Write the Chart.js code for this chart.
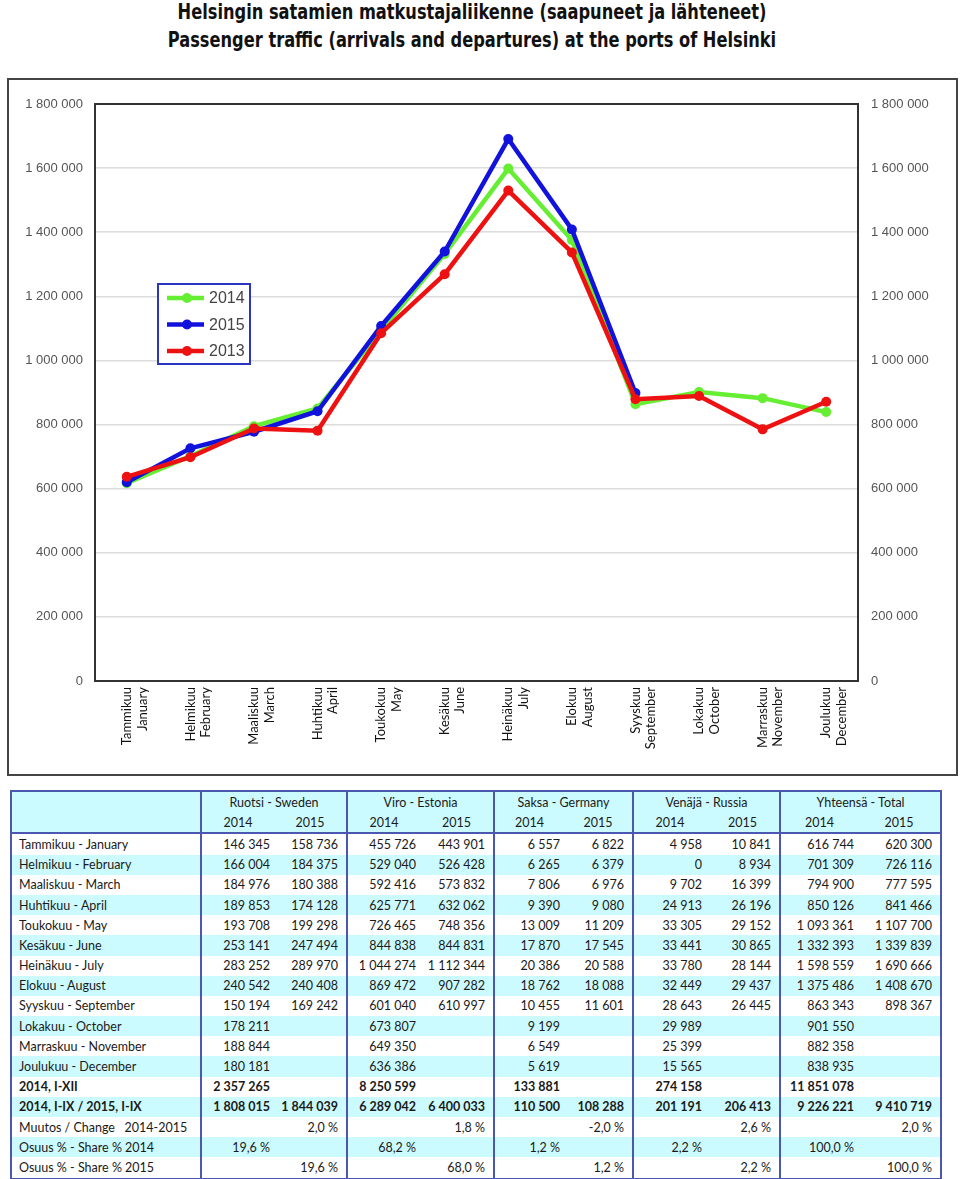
<!DOCTYPE html>
<html lang="fi">
<head>
<meta charset="UTF-8">
<title>Helsingin satamien matkustajaliikenne</title>
<script src="https://cdn.jsdelivr.net/npm/chart.js"></script>
<style>
    body {
        margin: 0;
        padding: 0;
        background: #fff;
        width: 960px;
        height: 1179px;
        position: relative;
        font-family: Lato, "Open Sans", sans-serif;
    }
    .title {
        position: absolute;
        left: 0;
        width: 944px;
        text-align: center;
        font-family: "DejaVu Sans Condensed", "DejaVu Sans", sans-serif;
        font-weight: bold;
        font-size: 22px;
        color: #111;
        line-height: 26px;
        transform: scaleX(0.82);
        transform-origin: 472px 0;
    }
    .chart-box {
        position: absolute;
        left: 7px;
        top: 78px;
        width: 947px;
        height: 694px;
        border: 2px solid #444;
    }
    table {
        position: absolute;
        left: 10px;
        top: 790px;
        width: 930px;
        border-collapse: collapse;
        table-layout: fixed;
        font-size: 12.5px;
        color: #1a1a1a;
        border: 2px solid #4a58b0;
    }
    td {
        height: 20.2px;
        padding: 0;
        white-space: pre;
        overflow: visible;
    }
    td.lab { padding-left: 7px; }
    td.a { text-align: right; padding-right: 4px; }
    td.b { text-align: right; padding-right: 8px; }
    td.g { border-left: 2px solid #4a58b0; }
    tr.hd td { text-align: center; padding: 0; }
    tr.hd2 td { border-bottom: 2px solid #4a58b0; }
    tr.c td { background: #ccfbff; }
    tr.bold td { font-weight: bold; }
</style>
</head>
<body>
<div class="title" style="top:-1px">Helsingin satamien matkustajaliikenne (saapuneet ja lähteneet)</div>
<div class="title" style="top:27px">Passenger traffic (arrivals and departures) at the ports of Helsinki</div>

<div class="chart-box">
    <canvas id="lineChart" width="947" height="694"></canvas>
</div>

<table id="tbl">
    <colgroup>
        <col style="width:190px">
        <col style="width:73px"><col style="width:73px">
        <col style="width:73px"><col style="width:74px">
        <col style="width:70px"><col style="width:69px">
        <col style="width:73px"><col style="width:74px">
        <col style="width:78px"><col style="width:83px">
    </colgroup>
    <tbody></tbody>
</table>

<script>
// kuukaudet / months (x axis)
const monthsFi = ['Tammikuu', 'Helmikuu', 'Maaliskuu', 'Huhtikuu', 'Toukokuu', 'Kesäkuu',
                  'Heinäkuu', 'Elokuu', 'Syyskuu', 'Lokakuu', 'Marraskuu', 'Joulukuu'];
const monthsEn = ['January', 'February', 'March', 'April', 'May', 'June',
                  'July', 'August', 'September', 'October', 'November', 'December'];

// totals per month
const total2014 = [616744, 701309, 794900, 850126, 1093361, 1332393, 1598559, 1375486, 863343, 901550, 882358, 838935];
const total2015 = [620300, 726116, 777595, 841466, 1107700, 1339839, 1690666, 1408670, 898367, null, null, null];
const total2013 = [637000, 698000, 788000, 781000, 1085000, 1269000, 1530000, 1337000, 879000, 889000, 785000, 871000];

// y axis
const yMin = 0;
const yMax = 1800000;
const yStep = 200000;

// table: country groups and rows
const groups = ['Ruotsi - Sweden', 'Viro - Estonia', 'Saksa - Germany', 'Venäjä - Russia', 'Yhteensä - Total'];
const years = ['2014', '2015'];
const sweden2014  = ['146 345', '166 004', '184 976', '189 853', '193 708', '253 141', '283 252', '240 542', '150 194', '178 211', '188 844', '180 181'];
const sweden2015  = ['158 736', '184 375', '180 388', '174 128', '199 298', '247 494', '289 970', '240 408', '169 242', '', '', ''];
const estonia2014 = ['455 726', '529 040', '592 416', '625 771', '726 465', '844 838', '1 044 274', '869 472', '601 040', '673 807', '649 350', '636 386'];
const estonia2015 = ['443 901', '526 428', '573 832', '632 062', '748 356', '844 831', '1 112 344', '907 282', '610 997', '', '', ''];
const germany2014 = ['6 557', '6 265', '7 806', '9 390', '13 009', '17 870', '20 386', '18 762', '10 455', '9 199', '6 549', '5 619'];
const germany2015 = ['6 822', '6 379', '6 976', '9 080', '11 209', '17 545', '20 588', '18 088', '11 601', '', '', ''];
const russia2014  = ['4 958', '0', '9 702', '24 913', '33 305', '33 441', '33 780', '32 449', '28 643', '29 989', '25 399', '15 565'];
const russia2015  = ['10 841', '8 934', '16 399', '26 196', '29 152', '30 865', '28 144', '29 437', '26 445', '', '', ''];
const summaryLabels = ['2014, I-XII', '2014, I-IX / 2015, I-IX', 'Muutos / Change   2014-2015', 'Osuus % - Share % 2014', 'Osuus % - Share % 2015'];
const summaryRows = [
    ['2 357 265', '', '8 250 599', '', '133 881', '', '274 158', '', '11 851 078', ''],
    ['1 808 015', '1 844 039', '6 289 042', '6 400 033', '110 500', '108 288', '201 191', '206 413', '9 226 221', '9 410 719'],
    ['', '2,0 %', '', '1,8 %', '', '-2,0 %', '', '2,6 %', '', '2,0 %'],
    ['19,6 %', '', '68,2 %', '', '1,2 %', '', '2,2 %', '', '100,0 %', ''],
    ['', '19,6 %', '', '68,0 %', '', '1,2 %', '', '2,2 %', '', '100,0 %']
];

// build the table
const tbody = document.querySelector('#tbl tbody');
let html = '<tr class="c hd"><td></td>';
groups.forEach(g => { html += '<td class="g" colspan="2">' + g + '</td>'; });
html += '</tr><tr class="c hd hd2"><td></td>';
groups.forEach(() => { html += '<td class="g">' + years[0] + '</td><td>' + years[1] + '</td>'; });
html += '</tr>';

function rowHtml(label, cells, cls) {
    let r = '<tr class="' + cls + '"><td class="lab">' + label + '</td>';
    cells.forEach((v, i) => {
        r += '<td class="' + (i % 2 === 0 ? 'a g' : 'b') + '">' + v + '</td>';
    });
    return r + '</tr>';
}
function fmt(n) {
    return String(n).replace(/\B(?=(\d{3})+(?!\d))/g, ' ');
}
monthsFi.forEach((m, i) => {
    const cells = [sweden2014[i], sweden2015[i], estonia2014[i], estonia2015[i],
                   germany2014[i], germany2015[i], russia2014[i], russia2015[i],
                   fmt(total2014[i]), total2015[i] === null ? '' : fmt(total2015[i])];
    html += rowHtml(m + ' - ' + monthsEn[i], cells, i % 2 === 1 ? 'c' : '');
});
summaryLabels.forEach((lab, j) => {
    let cls = (12 + j) % 2 === 1 ? 'c' : '';
    if (j < 2) cls += ' bold';
    html += rowHtml(lab, summaryRows[j], cls);
});
tbody.innerHTML = html;

// legend drawn inside the plot
const boxLegend = {
    id: 'boxLegend',
    afterDraw(chart) {
        const ctx = chart.ctx;
        ctx.save();
        ctx.strokeStyle = '#2a35c0';
        ctx.lineWidth = 2;
        ctx.fillStyle = '#fff';
        ctx.fillRect(149, 204, 92, 80);
        ctx.strokeRect(149, 204, 92, 80);
        ctx.font = '16px "Liberation Sans", Arial, sans-serif';
        ctx.textBaseline = 'middle';
        chart.data.datasets.forEach((ds, i) => {
            const y = 218 + i * 26.5;
            ctx.strokeStyle = ds.borderColor;
            ctx.lineWidth = 4.5;
            ctx.beginPath();
            ctx.moveTo(158, y);
            ctx.lineTo(195, y);
            ctx.stroke();
            ctx.fillStyle = ds.borderColor;
            ctx.beginPath();
            ctx.arc(178, y, 5, 0, Math.PI * 2);
            ctx.fill();
            ctx.fillStyle = '#444';
            ctx.fillText(ds.label, 200, y + 1);
        });
        ctx.restore();
    }
};

const gridColor = c => c.tick && c.tick.value === yMax ? '#333' : '#dcdcdc';
const gridWidth = c => c.tick && c.tick.value === yMax ? 2 : 1.5;
const fmtY = v => fmt(v);

new Chart(document.getElementById('lineChart').getContext('2d'), {
    type: 'line',
    data: {
        labels: monthsFi.map((m, i) => [m, monthsEn[i]]),
        datasets: [
            { label: '2014', data: total2014, borderColor: '#66ee33', backgroundColor: '#66ee33', order: 3 },
            { label: '2015', data: total2015, borderColor: '#1212dd', backgroundColor: '#1212dd', order: 2 },
            { label: '2013', data: total2013, borderColor: '#ee1111', backgroundColor: '#ee1111', order: 1 }
        ]
    },
    options: {
        responsive: false,
        animation: false,
        devicePixelRatio: 1,
        layout: { padding: { top: 24, left: 0, right: 0, bottom: 0 } },
        elements: {
            line: { borderWidth: 4.5, tension: 0 },
            point: { radius: 5, borderWidth: 0, hoverRadius: 5 }
        },
        plugins: {
            legend: { display: false },
            tooltip: { enabled: false }
        },
        scales: {
            x: {
                offset: true,
                grid: { display: false, drawTicks: false },
                border: { color: '#333', width: 2 },
                ticks: {
                    minRotation: 90,
                    maxRotation: 90,
                    padding: 6,
                    color: '#111',
                    font: { family: 'Lato', size: 13 }
                },
                afterFit(scale) { scale.height = 93; }
            },
            y: {
                position: 'left',
                min: yMin,
                max: yMax,
                grid: { color: gridColor, lineWidth: gridWidth, drawTicks: false },
                border: { color: '#333', width: 2 },
                ticks: {
                    stepSize: yStep,
                    padding: 12,
                    color: '#555',
                    font: { family: 'Liberation Sans', size: 13 },
                    callback: fmtY
                },
                afterFit(scale) { scale.width = 86; }
            },
            y2: {
                position: 'right',
                min: yMin,
                max: yMax,
                grid: { display: false, drawTicks: false },
                border: { color: '#333', width: 2 },
                ticks: {
                    stepSize: yStep,
                    padding: 13,
                    color: '#555',
                    font: { family: 'Liberation Sans', size: 13 },
                    callback: fmtY
                },
                afterFit(scale) { scale.width = 98; }
            }
        }
    },
    plugins: [boxLegend]
});
</script>
</body>
</html>
